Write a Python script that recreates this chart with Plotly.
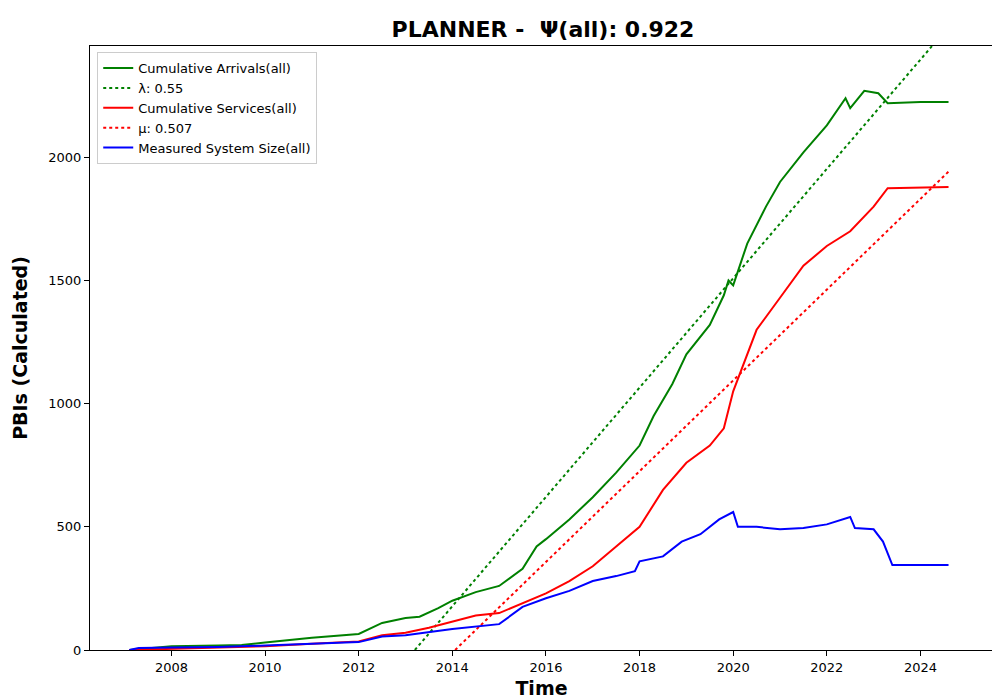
import plotly.graph_objects as go

# decimal years
arr_t = [2007.1, 2007.6, 2008, 2009, 2009.5, 2010, 2011, 2012, 2012.5, 2013, 2013.3, 2013.7, 2014, 2014.5, 2015,
         2015.5, 2015.8, 2016, 2016.5, 2017, 2017.5, 2018, 2018.3, 2018.7, 2019, 2019.5, 2019.8, 2019.9, 2020,
         2020.3, 2020.7, 2021, 2021.5, 2022, 2022.4, 2022.5, 2022.8, 2023.1, 2023.3, 2024, 2024.6]
arr_v = [0, 10, 15, 18, 20, 30, 50, 65, 110, 130, 135, 170, 200, 235, 260,
         330, 420, 450, 530, 620, 720, 830, 950, 1080, 1200, 1320, 1440, 1500, 1480,
         1650, 1800, 1900, 2020, 2130, 2240, 2200, 2270, 2260, 2220, 2225, 2225]

srv_t = [2007.1, 2008, 2009, 2010, 2011, 2012, 2012.5, 2013, 2013.5, 2014, 2014.5, 2015, 2015.5, 2016, 2016.5,
         2017, 2017.5, 2018, 2018.5, 2019, 2019.5, 2019.8, 2020, 2020.5, 2021, 2021.5, 2022, 2022.5, 2023,
         2023.3, 2024.6]
srv_v = [0, 5, 8, 15, 25, 35, 60, 70, 90, 115, 140, 150, 190, 230, 280,
         340, 420, 500, 650, 760, 830, 900, 1050, 1300, 1430, 1560, 1640, 1700, 1800,
         1875, 1880]

sys_t = [2007.1, 2007.3, 2008, 2009, 2010, 2011, 2012, 2012.5, 2013, 2014, 2015, 2015.5, 2016, 2016.5, 2017,
         2017.5, 2017.9, 2018, 2018.5, 2018.9, 2019.3, 2019.7, 2020, 2020.1, 2020.5, 2021, 2021.5, 2022,
         2022.5, 2022.6, 2023, 2023.2, 2023.4, 2024.6]
sys_v = [0, 8, 10, 12, 18, 25, 32, 55, 60, 85, 105, 175, 210, 240, 280,
         300, 320, 360, 380, 440, 470, 530, 560, 500, 500, 490, 495, 510,
         540, 495, 490, 440, 345, 345]

lam_t = [2013.2, 2024.6]
lam_v = [0, 2530]
mu_t = [2014.06, 2024.6]
mu_v = [0, 1942]

fig = go.Figure()
fig.add_trace(go.Scatter(x=arr_t, y=arr_v, mode="lines", name="Cumulative Arrivals(all)",
                         line=dict(color="green", width=2)))
fig.add_trace(go.Scatter(x=lam_t, y=lam_v, mode="lines", name="λ: 0.55",
                         line=dict(color="green", width=2, dash="dot")))
fig.add_trace(go.Scatter(x=srv_t, y=srv_v, mode="lines", name="Cumulative Services(all)",
                         line=dict(color="red", width=2)))
fig.add_trace(go.Scatter(x=mu_t, y=mu_v, mode="lines", name="μ: 0.507",
                         line=dict(color="red", width=2, dash="dot")))
fig.add_trace(go.Scatter(x=sys_t, y=sys_v, mode="lines", name="Measured System Size(all)",
                         line=dict(color="blue", width=2)))

axis_style = dict(showgrid=False, zeroline=False, showline=True, linecolor="black", mirror=True,
                  ticks="outside", tickcolor="black", tickfont=dict(size=13, color="black"))
fig.update_layout(
    width=1000, height=700,
    paper_bgcolor="white", plot_bgcolor="white",
    font=dict(family="DejaVu Sans", color="black"),
    title=dict(text="<b>PLANNER -  Ψ(all): 0.922</b>", x=0.535, y=0.98, xanchor="center",
               font=dict(size=22)),
    margin=dict(l=79, r=15, t=38, b=57),
    showlegend=True,
    legend=dict(x=0.008, y=0.99, xanchor="left", yanchor="top", bordercolor="#cccccc",
                borderwidth=1, bgcolor="white", font=dict(size=13)),
    xaxis=dict(title=dict(text="<b>Time</b>", font=dict(size=19), standoff=8),
               range=[2006.26, 2025.55], tickvals=list(range(2008, 2025, 2)), **axis_style),
    yaxis=dict(title=dict(text="<b>PBIs (Calculated)</b>", font=dict(size=19)),
               range=[0, 2452], tickvals=[0, 500, 1000, 1500, 2000], **axis_style),
)
fig.write_html("out.html")
